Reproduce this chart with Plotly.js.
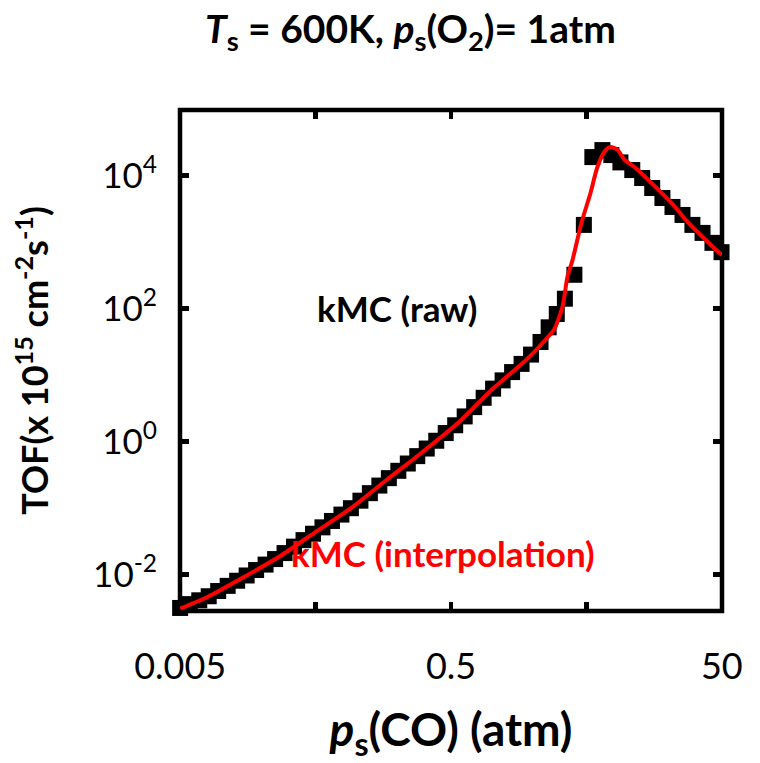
<!DOCTYPE html>
<html>
<head>
<meta charset="utf-8">
<script src="https://cdn.plot.ly/plotly-3.0.1.min.js"></script>
<style>html,body{margin:0;padding:0;background:#fff;}#chart{width:760px;height:763px;}</style>
</head>
<body>
<div id="chart"></div>
<script>
// kMC raw data: CO partial pressure (atm) and TOF (x 10^15 cm^-2 s^-1)
const pCO_raw = [0.0050, 0.00589, 0.00692, 0.00813, 0.00955, 0.01122, 0.01318, 0.01549, 0.01820, 0.02138,
  0.02512, 0.02951, 0.03467, 0.04074, 0.04786, 0.05623, 0.06607, 0.07762, 0.0912, 0.1072,
  0.1259, 0.1479, 0.1738, 0.2042, 0.2399, 0.2818, 0.3311, 0.3890, 0.4571, 0.5370,
  0.6310, 0.7413, 0.8710, 1.023, 1.202, 1.413, 1.660, 1.950, 2.291, 2.630,
  3.020, 3.467, 4.074, 4.786, 5.53, 6.56, 7.64, 8.91, 10.9, 12.9,
  15.3, 18.2, 21.6, 25.6, 30.3, 36.0, 42.6, 49.7];
const tof_raw = [0.00316, 0.00361, 0.00412, 0.00474, 0.00568, 0.00679, 0.00811, 0.00973, 0.01175, 0.01419,
  0.01718, 0.02113, 0.02642, 0.03311, 0.04130, 0.05152, 0.06427, 0.08017, 0.1000, 0.1297,
  0.1683, 0.2188, 0.2831, 0.3648, 0.4699, 0.6067, 0.7889, 1.033, 1.349, 1.766,
  2.399, 3.311, 4.571, 6.281, 8.356, 11.14, 14.79, 20.42, 31.62, 52.48,
  83.18, 141.3, 323.6, 1820, 19050, 24270, 20420, 15850, 12160, 9226,
  6531, 4624, 3388, 2570, 1820, 1380, 977, 708];

// kMC interpolation curve
const pCO_interp = [0.00501, 0.00794, 0.01479, 0.02692, 0.04898, 0.0912, 0.1660, 0.3020, 0.5623, 1.0,
  1.862, 2.667, 2.904, 3.327, 3.622, 3.945, 4.592, 5.358, 6.026, 6.792,
  7.516, 8.472, 9.550, 11.48, 21.23, 28.31, 47.86, 50.0];
const tof_interp = [0.00309, 0.00462, 0.00923, 0.01862, 0.04266, 0.1, 0.2630, 0.6761, 1.905, 6.026,
  18.20, 39.81, 49.5, 107.2, 302, 537, 1950, 5495, 13490, 22910,
  26920, 24550, 17380, 13180, 3890, 1950, 692, 646];

// Axis ticks
const xTickVals = [0.005, 0.05, 0.5, 5, 50];
const xTickText = ['0.005', '', '0.5', '', '50'];
const yTickVals = [0.01, 1, 100, 10000];
const yTickText = ['10<sup>-2</sup>', '10<sup>0</sup>', '10<sup>2</sup>', '10<sup>4</sup>'];

const FONT = 'Lato, "Open Sans", sans-serif';

const traces = [
  {
    x: pCO_raw, y: tof_raw, type: 'scatter', mode: 'markers', name: 'kMC (raw)',
    marker: {symbol: 'square', size: 16, color: '#000000', line: {width: 0}},
    cliponaxis: false
  },
  {
    x: pCO_interp, y: tof_interp, type: 'scatter', mode: 'lines', name: 'kMC (interpolation)',
    line: {color: '#ff0000', width: 4, shape: 'spline', smoothing: 0.7},
    cliponaxis: false
  }
];

const layout = {
  width: 760, height: 763,
  margin: {l: 180, r: 38, t: 110, b: 152},
  paper_bgcolor: '#ffffff', plot_bgcolor: '#ffffff',
  showlegend: false,
  font: {family: FONT, color: '#000000'},
  title: {
    text: '<b><i>T</i><sub>s</sub> = 600K, <i>p</i><sub>s</sub>(O<sub>2</sub>)= 1atm</b>',
    font: {family: FONT, size: 39, color: '#000000'},
    x: 0.54, xref: 'container', xanchor: 'center',
    y: 0.962, yref: 'container', yanchor: 'middle'
  },
  xaxis: {
    type: 'log', range: [-2.302, 1.700],
    tickmode: 'array', tickvals: xTickVals, ticktext: xTickText,
    ticks: 'inside', ticklen: 9, tickwidth: 4.5, tickcolor: '#000000',
    mirror: 'ticks', showline: false, showgrid: false, zeroline: false,
    tickfont: {family: FONT, size: 36, color: '#000000'},
    ticklabelstandoff: 31,
    title: {text: '<b><i>p</i><sub>s</sub>(CO) (atm)</b>', font: {family: FONT, size: 46, color: '#000000'}, standoff: 38}
  },
  yaxis: {
    type: 'log', range: [-2.546, 4.988],
    tickmode: 'array', tickvals: yTickVals, ticktext: yTickText,
    ticks: 'inside', ticklen: 9, tickwidth: 4.5, tickcolor: '#000000',
    mirror: 'ticks', showline: false, showgrid: false, zeroline: false,
    tickfont: {family: FONT, size: 35, color: '#000000'},
    ticklabelstandoff: 22,
    title: {text: '<b>TOF(x 10<sup>15</sup> cm<sup>-2</sup>s<sup>-1</sup>)</b>', font: {family: FONT, size: 36, color: '#000000'}, standoff: 33}
  },
  shapes: [
    {type: 'rect', xref: 'paper', yref: 'paper', x0: 0, x1: 1, y0: 0, y1: 1,
     line: {color: '#000000', width: 4.5}, layer: 'below'}
  ],
  annotations: [
    {text: '<b>kMC (raw)</b>', xref: 'paper', yref: 'paper', x: 0.4, y: 0.605, xanchor: 'center', yanchor: 'middle',
     showarrow: false, font: {family: FONT, size: 35, color: '#000000'}},
    {text: '<b>kMC (interpolation)</b>', xref: 'paper', yref: 'paper', x: 0.485, y: 0.115, xanchor: 'center', yanchor: 'middle',
     showarrow: false, font: {family: FONT, size: 35, color: '#ff0000'}}
  ]
};

Plotly.newPlot('chart', traces, layout, {displayModeBar: false, staticPlot: true});
</script>
</body>
</html>
